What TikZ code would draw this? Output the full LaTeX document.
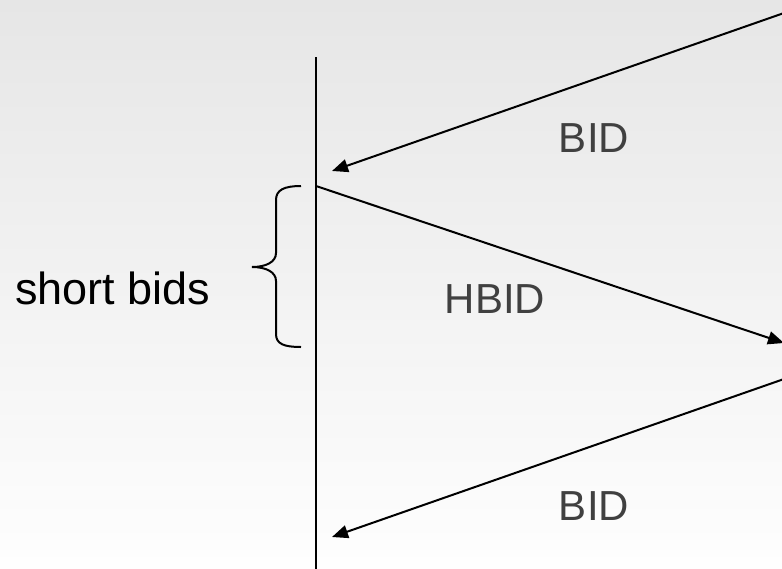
\documentclass[tikz,border=0pt]{standalone}
\usepackage{fontspec}
\setmainfont{Liberation Sans}
\usetikzlibrary{arrows.meta}
\definecolor{labelgray}{HTML}{404040}
\definecolor{bgtop}{HTML}{E6E6E6}
\definecolor{bgbottom}{HTML}{FEFEFE}

\begin{document}
\begin{tikzpicture}[x=1pt,y=-1pt]
\useasboundingbox (0,0) rectangle (782,568);
\shade [top color=bgtop, bottom color=bgbottom] (0,0) rectangle (782,568);

% lifeline and message ends
\coordinate (ltop) at (316,57);
\coordinate (lbot) at (316,570);
\coordinate (r1) at (784,13);
\coordinate (a1) at (332,171);
\coordinate (a2) at (316,186);
\coordinate (r2) at (784,343);
\coordinate (r3) at (784,379);
\coordinate (a3) at (332,537);

\begin{scope}[every node/.style={inner sep=0pt, anchor=base}]
\node [labelgray, font=\fontsize{42}{50}\selectfont] (bid1) at (594,152) {BID};
\node [labelgray, font=\fontsize{42}{50}\selectfont] (hbid) at (495,313) {HBID};
\node [labelgray, font=\fontsize{42}{50}\selectfont] (bid2) at (594,520) {BID};
\node [black, font=\fontsize{45}{54}\selectfont] (short) at (113,304) {short bids};
\end{scope}

\draw [line width=2pt] (ltop) -- (lbot);

\begin{scope}[>={Triangle[length=16pt,width=13pt]}]
\draw [->, line width=2pt] (r1) -- (a1);
\draw [->, line width=2pt] (a2) -- (r2);
\draw [->, line width=2pt] (r3) -- (a3);
\end{scope}

% brace
\coordinate (bt) at (301,186);
\coordinate (bm) at (252,267);
\coordinate (bb) at (301,347);
\draw [line width=2pt] (bt) .. controls (284,186) and (276,190) .. (276,200)
  -- (276,253) .. controls (276,262) and (266,267) .. (bm)
  .. controls (266,267) and (276,272) .. (276,281)
  -- (276,334) .. controls (276,344) and (284,347) .. (bb);
\end{tikzpicture}
\end{document}
